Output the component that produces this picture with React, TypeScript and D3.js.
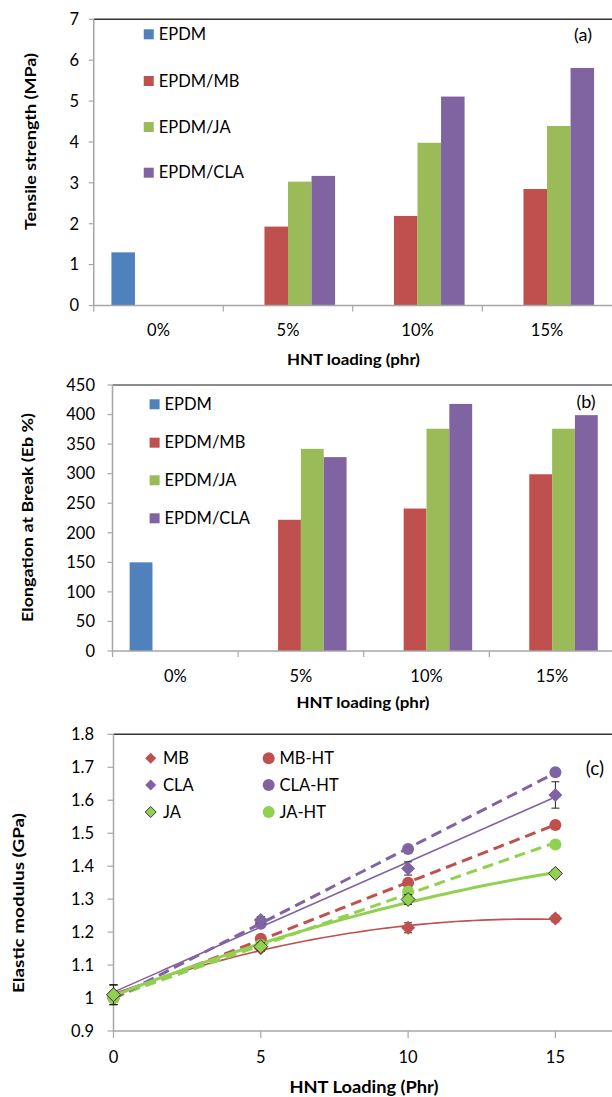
import React from "react";
import * as d3 from "d3";

// ---------- Data ----------
const categories = ["0%", "5%", "10%", "15%"];
const barSeries = ["EPDM", "EPDM/MB", "EPDM/JA", "EPDM/CLA"];
const barColors = ["#4F81BD", "#C0504D", "#9BBB59", "#8064A2"];

// Tensile strength (MPa)
const tensileEPDM = [1.3, null, null, null];
const tensileMB = [null, 1.93, 2.19, 2.85];
const tensileJA = [null, 3.03, 3.98, 4.39];
const tensileCLA = [null, 3.17, 5.11, 5.81];
const tensileTicks = [0, 1, 2, 3, 4, 5, 6, 7];

// Elongation at break (%)
const elongEPDM = [150, null, null, null];
const elongMB = [null, 222, 241, 299];
const elongJA = [null, 342, 376, 376];
const elongCLA = [null, 328, 418, 399];
const elongTicks = [0, 50, 100, 150, 200, 250, 300, 350, 400, 450];

// Elastic modulus (GPa)
const loadings = [0, 5, 10, 15];
const modMB = [1.01, 1.151, 1.213, 1.241];
const modMBHT = [1.0, 1.18, 1.35, 1.525];
const modCLA = [1.01, 1.237, 1.393, 1.616];
const modCLAHT = [1.0, 1.225, 1.452, 1.685];
const modJA = [1.01, 1.156, 1.299, 1.378];
const modJAHT = [1.0, 1.161, 1.323, 1.466];
const errMB = [0.03, 0.01, 0.015, 0.01];
const errCLA = [0.03, 0.01, 0.02, 0.04];
const errJA = [0.03, 0.012, 0.015, 0.01];
const modTicks = [0.9, 1.0, 1.1, 1.2, 1.3, 1.4, 1.5, 1.6, 1.7, 1.8];
const loadTicks = [0, 5, 10, 15];

const FONT = "Lato, 'Open Sans', sans-serif";
const AXIS = "#A6A6A6";

// least squares polynomial fit
function polyFit(xs: number[], ys: number[], deg: number): number[] {
  const n = deg + 1;
  const A: number[][] = Array.from({ length: n }, () => new Array(n + 1).fill(0));
  for (let i = 0; i < xs.length; i++) {
    for (let r = 0; r < n; r++) {
      for (let c = 0; c < n; c++) A[r][c] += Math.pow(xs[i], r + c);
      A[r][n] += ys[i] * Math.pow(xs[i], r);
    }
  }
  for (let i = 0; i < n; i++) {
    let p = i;
    for (let k = i + 1; k < n; k++) if (Math.abs(A[k][i]) > Math.abs(A[p][i])) p = k;
    [A[i], A[p]] = [A[p], A[i]];
    for (let k = i + 1; k < n; k++) {
      const f = A[k][i] / A[i][i];
      for (let c = i; c <= n; c++) A[k][c] -= f * A[i][c];
    }
  }
  const coef = new Array(n).fill(0);
  for (let i = n - 1; i >= 0; i--) {
    let s = A[i][n];
    for (let c = i + 1; c < n; c++) s -= A[i][c] * coef[c];
    coef[i] = s / A[i][i];
  }
  return coef;
}

type BarProps = {
  values: (number | null)[][];
  yMax: number;
  ticks: number[];
  left: number;
  catW: number;
  top: number;
  bottom: number;
  labelRight: number;
  yTitle: string;
  yTitleX: number;
  yTitleY: number;
  yTitleLen: number;
  xLabelY: number;
  xTitleX: number;
  xTitleY: number;
  legendSqX: number;
  legendRows: number[];
  tag: string;
  tagX: number;
  tagY: number;
  topColor: string;
  topWidth: number;
};

function BarPanel(p: BarProps) {
  const x = d3
    .scaleBand<string>()
    .domain(categories)
    .range([p.left, p.left + p.catW * categories.length])
    .padding(0);
  const sub = d3
    .scaleBand<string>()
    .domain(barSeries)
    .range([0, x.bandwidth()])
    .paddingInner(0)
    .paddingOuter(0.75);
  const y = d3.scaleLinear().domain([0, p.yMax]).range([p.bottom, p.top]);
  return (
    <g>
      {barSeries.map((s, si) =>
        categories.map((c, ci) => {
          const v = p.values[si][ci];
          if (v == null) return null;
          return (
            <rect
              key={s + c}
              x={(x(c) as number) + (sub(s) as number)}
              y={y(v)}
              width={sub.bandwidth()}
              height={y(0) - y(v)}
              fill={barColors[si]}
            />
          );
        })
      )}
      <line x1={p.left} x2={620} y1={p.top} y2={p.top} stroke={p.topColor} strokeWidth={p.topWidth} />
      <line x1={p.left} x2={p.left} y1={p.top} y2={p.bottom} stroke={AXIS} strokeWidth={1.5} />
      {p.ticks.map((t) => (
        <g key={t}>
          <line x1={p.left - 5} x2={p.left} y1={y(t)} y2={y(t)} stroke={AXIS} strokeWidth={1.2} />
          <text x={p.labelRight} y={y(t)} dy="0.35em" textAnchor="end" fontSize={16.5} fontFamily={FONT} fill="#000">
            {t}
          </text>
        </g>
      ))}
      <line x1={p.left} x2={620} y1={p.bottom} y2={p.bottom} stroke={AXIS} strokeWidth={1.5} />
      {categories.map((c) => (
        <g key={c}>
          <line x1={x(c)} x2={x(c)} y1={p.bottom} y2={p.bottom + 6} stroke={AXIS} strokeWidth={1.2} />
          <text
            x={(x(c) as number) + x.bandwidth() / 2}
            y={p.xLabelY}
            dy="0.35em"
            textAnchor="middle"
            fontSize={16.5}
            fontFamily={FONT}
            fill="#000"
          >
            {c}
          </text>
        </g>
      ))}
      <text
        transform={`translate(${p.yTitleX},${p.yTitleY}) rotate(-90)`}
        textAnchor="middle"
        dy="0.35em"
        fontSize={15}
        fontWeight="bold"
        fontFamily={FONT}
        fill="#000"
        textLength={p.yTitleLen}
        lengthAdjust="spacingAndGlyphs"
      >
        {p.yTitle}
      </text>
      <text
        x={p.xTitleX}
        y={p.xTitleY}
        dy="0.35em"
        textAnchor="middle"
        fontSize={15}
        fontWeight="bold"
        fontFamily={FONT}
        fill="#000"
        textLength={133}
        lengthAdjust="spacingAndGlyphs"
      >
        HNT loading (phr)
      </text>
      {barSeries.map((s, i) => (
        <g key={s}>
          <rect x={p.legendSqX} y={p.legendRows[i] - 5} width={10} height={10} fill={barColors[i]} />
          <text x={p.legendSqX + 15} y={p.legendRows[i]} dy="0.35em" fontSize={16.5} fontFamily={FONT} fill="#000">
            {s}
          </text>
        </g>
      ))}
      <text x={p.tagX} y={p.tagY} dy="0.35em" textAnchor="middle" fontSize={18} fontFamily={FONT} fill="#000">
        {p.tag}
      </text>
    </g>
  );
}

function diamondPath(cx: number, cy: number, r: number) {
  return `M${cx},${cy - r}L${cx + r},${cy}L${cx},${cy + r}L${cx - r},${cy}Z`;
}

function ModulusPanel() {
  const left = 113.5;
  const x = d3.scaleLinear().domain([0, 20]).range([left, left + 4 * 147.3]);
  const y = d3.scaleLinear().domain([0.9, 1.8]).range([1031, 734.3]);
  const red = "#C0504D";
  const purple = "#8064A2";
  const green = "#92D050";

  const fits = [
    { data: modMB, deg: 2, color: red, w: 1.6, dash: null },
    { data: modCLA, deg: 1, color: purple, w: 1.6, dash: null },
    { data: modMBHT, deg: 1, color: red, w: 3, dash: "11,6" },
    { data: modJAHT, deg: 1, color: green, w: 3, dash: "11,6" },
    { data: modCLAHT, deg: 1, color: purple, w: 3, dash: "11,6" },
    { data: modJA, deg: 2, color: green, w: 3, dash: null },
  ];
  const xsSample = d3.range(0, 15.01, 0.25);
  const line = d3
    .line<number[]>()
    .x((d) => x(d[0]))
    .y((d) => y(d[1]));

  const circleSeries = [
    { data: modMBHT, color: red },
    { data: modCLAHT, color: purple },
    { data: modJAHT, color: green },
  ];
  const diamondSeries = [
    { data: modMB, err: errMB, color: red, stroke: "none" },
    { data: modCLA, err: errCLA, color: purple, stroke: "none" },
    { data: modJA, err: errJA, color: green, stroke: "#3a3a3a" },
  ];

  const legendLeft = [
    { name: "MB", color: red, stroke: "none" },
    { name: "CLA", color: purple, stroke: "none" },
    { name: "JA", color: green, stroke: "#3a3a3a" },
  ];
  const legendRight = [
    { name: "MB-HT", color: red },
    { name: "CLA-HT", color: purple },
    { name: "JA-HT", color: green },
  ];
  const rows = [758.3, 785, 812];

  return (
    <g>
      <line x1={left} x2={620} y1={y(1.8)} y2={y(1.8)} stroke="#333" strokeWidth={1.5} />
      <line x1={left} x2={left} y1={y(1.8)} y2={y(0.9)} stroke={AXIS} strokeWidth={1.5} />
      <line x1={left} x2={620} y1={y(0.9)} y2={y(0.9)} stroke={AXIS} strokeWidth={1.5} />
      {modTicks.map((t) => (
        <g key={t}>
          <line x1={left - 6} x2={left} y1={y(t)} y2={y(t)} stroke={AXIS} strokeWidth={1.2} />
          <text x={94} y={y(t)} dy="0.35em" textAnchor="end" fontSize={16.5} fontFamily={FONT} fill="#000">
            {d3.format("~g")(+t.toFixed(1))}
          </text>
        </g>
      ))}
      {loadTicks.map((t) => (
        <g key={t}>
          <line x1={x(t)} x2={x(t)} y1={y(0.9)} y2={y(0.9) + 7} stroke={AXIS} strokeWidth={1.2} />
          <text x={x(t)} y={1057} dy="0.35em" textAnchor="middle" fontSize={16.5} fontFamily={FONT} fill="#000">
            {t}
          </text>
        </g>
      ))}
      {fits.map((f, i) => {
        const c = polyFit(loadings, f.data, f.deg);
        const pts = xsSample.map((xv) => [xv, c.reduce((s, ci, k) => s + ci * Math.pow(xv, k), 0)]);
        return (
          <path
            key={i}
            d={line(pts) as string}
            fill="none"
            stroke={f.color}
            strokeWidth={f.w}
            strokeDasharray={f.dash ?? undefined}
          />
        );
      })}
      {circleSeries.map((s, si) =>
        s.data.map((v, i) => <circle key={si + "-" + i} cx={x(loadings[i])} cy={y(v)} r={6} fill={s.color} />)
      )}
      {diamondSeries.map((s, si) =>
        s.data.map((v, i) => {
          const cx = x(loadings[i]);
          return (
            <g key={si + "-" + i}>
              <line x1={cx} x2={cx} y1={y(v + s.err[i])} y2={y(v - s.err[i])} stroke="#222" strokeWidth={1} />
              <line x1={cx - 4} x2={cx + 4} y1={y(v + s.err[i])} y2={y(v + s.err[i])} stroke="#222" strokeWidth={1} />
              <line x1={cx - 4} x2={cx + 4} y1={y(v - s.err[i])} y2={y(v - s.err[i])} stroke="#222" strokeWidth={1} />
              <path d={diamondPath(cx, y(v), 7)} fill={s.color} stroke={s.stroke} strokeWidth={1} />
            </g>
          );
        })
      )}
      {legendLeft.map((l, i) => (
        <g key={l.name}>
          <path d={diamondPath(150.7, rows[i], 5.5)} fill={l.color} stroke={l.stroke} strokeWidth={1} />
          <text x={163} y={rows[i]} dy="0.35em" fontSize={16.5} fontFamily={FONT} fill="#000">
            {l.name}
          </text>
        </g>
      ))}
      {legendRight.map((l, i) => (
        <g key={l.name}>
          <circle cx={268.7} cy={rows[i]} r={6} fill={l.color} />
          <text x={279.5} y={rows[i]} dy="0.35em" fontSize={16.5} fontFamily={FONT} fill="#000">
            {l.name}
          </text>
        </g>
      ))}
      <text x={595} y={768} dy="0.35em" textAnchor="middle" fontSize={19} fontFamily={FONT} fill="#000">
        (c)
      </text>
      <text
        transform={`translate(18.8,903) rotate(-90)`}
        textAnchor="middle"
        dy="0.35em"
        fontSize={16}
        fontWeight="bold"
        fontFamily={FONT}
        fill="#000"
        textLength={180}
        lengthAdjust="spacingAndGlyphs"
      >
        Elastic modulus (GPa)
      </text>
      <text
        x={364}
        y={1087}
        dy="0.35em"
        textAnchor="middle"
        fontSize={17}
        fontWeight="bold"
        fontFamily={FONT}
        fill="#000"
        textLength={149}
        lengthAdjust="spacingAndGlyphs"
      >
        HNT Loading (Phr)
      </text>
    </g>
  );
}

export default function App() {
  return (
    <svg
      width={612}
      height={1097}
      style={{ position: "absolute", left: 0, top: 0, background: "#fff" }}
    >
      <rect x={0} y={0} width={612} height={1097} fill="#fff" />
      <BarPanel
        values={[tensileEPDM, tensileMB, tensileJA, tensileCLA]}
        yMax={7}
        ticks={tensileTicks}
        left={93.75}
        catW={129.5}
        top={19.3}
        bottom={305.5}
        labelRight={79}
        yTitle="Tensile strength (MPa)"
        yTitleX={31}
        yTitleY={141.5}
        yTitleLen={177}
        xLabelY={330}
        xTitleX={353.5}
        xTitleY={360}
        legendSqX={143.75}
        legendRows={[34.3, 81, 127, 172.7]}
        tag="(a)"
        tagX={583}
        tagY={34.5}
        topColor="#333"
        topWidth={1.5}
      />
      <BarPanel
        values={[elongEPDM, elongMB, elongJA, elongCLA]}
        yMax={450}
        ticks={elongTicks}
        left={112.5}
        catW={125.6}
        top={385}
        bottom={651}
        labelRight={95}
        yTitle="Elongation at Break (Eb %)"
        yTitleX={27.3}
        yTitleY={517.5}
        yTitleLen={209}
        xLabelY={676.7}
        xTitleX={363}
        xTitleY={703}
        legendSqX={149.6}
        legendRows={[404.3, 442.7, 480.3, 518.3]}
        tag="(b)"
        tagX={586}
        tagY={401.7}
        topColor="#8C8C8C"
        topWidth={2}
      />
      <ModulusPanel />
    </svg>
  );
}
